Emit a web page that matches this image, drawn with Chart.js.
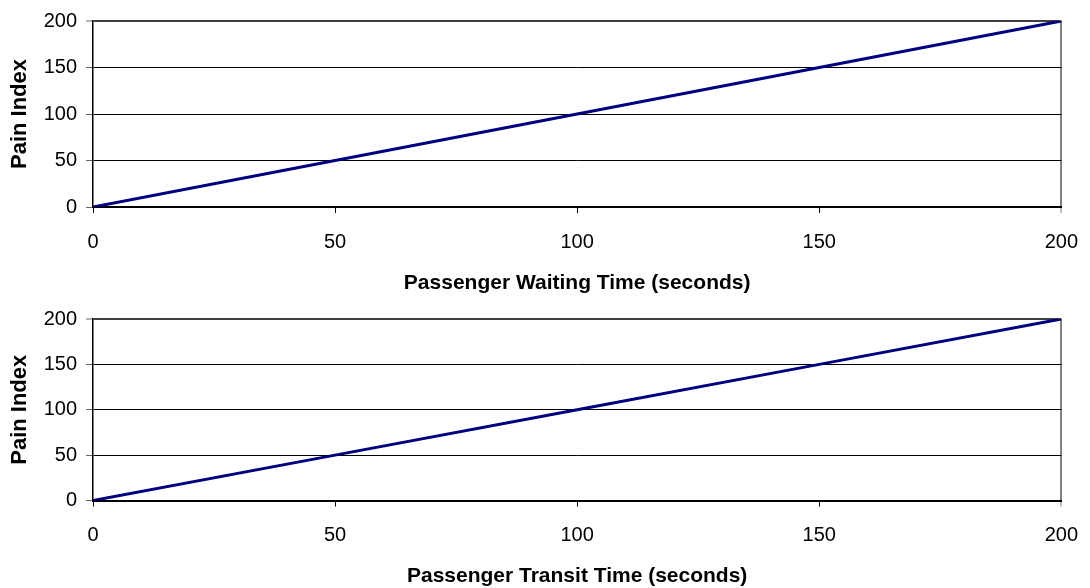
<!DOCTYPE html>
<html>
<head>
<meta charset="utf-8">
<script src="https://cdn.jsdelivr.net/npm/chart.js@4.4.0/dist/chart.umd.min.js"></script>
<style>
  html, body { margin: 0; padding: 0; background: #fff; overflow: hidden; }
  #wrap { position: relative; width: 1090px; height: 588px; overflow: hidden; }
  .box { position: absolute; left: 0; width: 1095px; height: 294px; }
</style>
</head>
<body>
<div id="wrap">
  <div class="box" style="top:0"><canvas id="c1"></canvas></div>
  <div class="box" style="top:294px"><canvas id="c2"></canvas></div>
</div>
<script>
// Data
const waitingTime = [0, 50, 100, 150, 200];
const waitingPain = [0, 50, 100, 150, 200];
const transitTime = [0, 50, 100, 150, 200];
const transitPain = [0, 50, 100, 150, 200];
const xTicks = [0, 50, 100, 150, 200];
const yTicks = [0, 50, 100, 150, 200];
const yTitle = 'Pain Index';
const xTitles = ['Passenger Waiting Time (seconds)', 'Passenger Transit Time (seconds)'];

const FONT = "'Liberation Sans', Arial, sans-serif";

function makeChart(id, xs, ys, xTitle, padTop, xAxisH, titlePadBottom) {
  const pts = xs.map((x, i) => ({ x: x, y: ys[i] }));
  return new Chart(document.getElementById(id), {
    type: 'line',
    data: {
      datasets: [{
        data: pts,
        borderColor: '#000080',
        borderWidth: 3,
        pointRadius: 0,
        fill: false,
        tension: 0
      }]
    },
    options: {
      responsive: true,
      maintainAspectRatio: false,
      animation: false,
      plugins: { legend: { display: false }, tooltip: { enabled: false } },
      layout: { padding: { left: 0, right: 28, top: padTop, bottom: 0 } },
      scales: {
        x: {
          type: 'linear',
          min: 0, max: 200,
          afterBuildTicks: (s) => { s.ticks = xTicks.map(v => ({ value: v })); },
          afterFit: (s) => { s.height = xAxisH; },
          ticks: {
            color: '#000',
            font: { family: FONT, size: 20 },
            padding: 17,
            maxRotation: 0,
            autoSkip: false
          },
          grid: {
            drawOnChartArea: true,
            color: (c) => (c.tick && c.tick.value === 200) ? '#808080' : 'rgba(0,0,0,0)',
            lineWidth: (c) => (c.tick && c.tick.value === 200) ? 2 : 1,
            tickColor: (c) => (c.tick && c.tick.value === 200) ? '#808080' : '#000',
            tickLength: 6,
            tickWidth: 1
          },
          border: { display: true, color: '#000', width: 2 },
          title: {
            display: true,
            text: xTitle,
            color: '#000',
            font: { family: FONT, size: 21, weight: 'bold', lineHeight: 1 },
            padding: { top: 0, bottom: titlePadBottom }
          }
        },
        y: {
          type: 'linear',
          min: 0, max: 200,
          afterBuildTicks: (s) => { s.ticks = yTicks.map(v => ({ value: v })); },
          afterFit: (s) => { s.width = 93; },
          ticks: {
            color: '#000',
            font: { family: FONT, size: 20 },
            padding: 9
          },
          grid: {
            color: (c) => (c.tick && c.tick.value === 200) ? '#404040' : '#000',
            lineWidth: (c) => (c.tick && c.tick.value === 200) ? 2 : 1,
            tickColor: '#666',
            tickLength: 7,
            tickWidth: 1
          },
          border: { display: true, color: '#000', width: 1.5 },
          title: {
            display: true,
            text: yTitle,
            color: '#000',
            font: { family: FONT, size: 22, weight: 'bold', lineHeight: 1 },
            padding: { top: 9, bottom: 0 }
          }
        }
      }
    }
  });
}

makeChart('c1', waitingTime, waitingPain, xTitles[0], 21, 87, 0);
makeChart('c2', transitTime, transitPain, xTitles[1], 25, 87.5, 1);
</script>
</body>
</html>
